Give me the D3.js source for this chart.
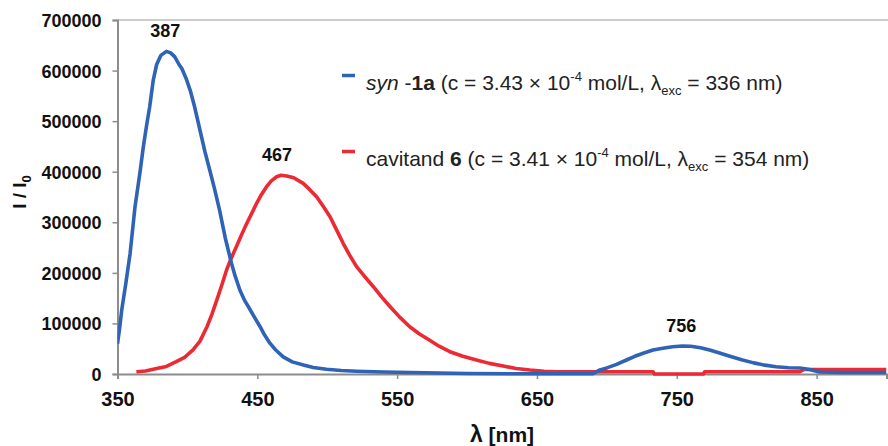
<!DOCTYPE html>
<html lang="en">
<head>
<meta charset="UTF-8">
<title>Emission spectra</title>
<script src="https://d3js.org/d3.v7.min.js"></script>
<style>
  body { margin: 0; background: #fff; }
  svg text { font-family: "Liberation Sans", Arial, sans-serif; fill: #111; }
  .tick-y { font-size: 18px; font-weight: bold; }
  .tick-x { font-family: "Liberation Sans Narrow", "Liberation Sans", Arial, sans-serif; font-size: 20px; font-weight: bold; }
  .peak { font-size: 18px; font-weight: bold; }
  .legend { font-size: 21px; fill: #222; }
</style>
</head>
<body>
<svg id="chart" width="888" height="446"></svg>
<script>
// syn-1a emission (blue)
const synWl = [350, 351.5, 353, 356, 359, 362.5, 366, 368.5, 371, 373, 375.5, 378, 381, 385, 388, 391, 394, 396, 399, 402,
  405, 409, 412.5, 416, 419.5, 423, 427, 431.5, 434, 437.5, 441, 444.7, 448, 452, 455, 459, 463, 468.5, 475, 483,
  490, 499.5, 510, 521, 540, 560, 580, 600, 640, 690, 695, 700, 707, 714, 720, 727, 733, 740, 747, 754,
  760, 767, 773.5, 780, 788, 797, 805, 813, 821, 830, 838, 845, 852, 870, 900];
const synI = [60000, 90000, 126000, 180000, 238000, 330000, 397000, 450000, 495000, 528000, 580000, 612000, 630000, 638000, 635000, 627000, 612000, 604000, 585000, 561000,
  530000, 482000, 440000, 403000, 365000, 324000, 270000, 219000, 195000, 166000, 145000, 128000, 112000, 93500, 78000, 61000, 48000, 34000, 24000, 17800,
  13000, 9300, 7000, 5500, 4000, 3000, 2000, 1000, 500, 500, 8000, 12000, 19000, 27700, 35000, 42000, 47500, 51000, 54000, 55500,
  55000, 52000, 47500, 42000, 35000, 27700, 22000, 17500, 14400, 12500, 11800, 9000, 4000, 3000, 3000];

// cavitand 6 emission (red)
const cavWl = [363.5, 370, 378, 385, 392, 398, 404, 409, 414, 417.5, 421, 424.5, 428, 431.5, 435, 438.5, 442, 445.5, 449.5, 453,
  456.6, 460, 463.8, 467, 471, 476, 482.8, 487, 492.4, 497, 502, 506.5, 511.4, 516, 521, 527, 533, 539, 545, 552,
  559, 566, 573, 580, 587.7, 597, 606.7, 616, 625.8, 635, 645, 655, 664, 690, 733, 734, 769, 770, 838, 841, 900];
const cavI = [4500, 6000, 11000, 15000, 24300, 33000, 47500, 65000, 93500, 118000, 146000, 175000, 205600, 230000, 251700, 274000, 295000, 315000, 337500, 355000,
  370400, 382000, 390000, 393000, 391500, 388000, 377000, 366000, 350600, 332000, 311000, 286000, 258400, 235000, 212200, 192000, 172600, 152000, 133100, 112000,
  93500, 79000, 67200, 55000, 44100, 35000, 27700, 21000, 15800, 11000, 7900, 5500, 4500, 4500, 4500, 0, 0, 4500, 4500, 9000, 9000];

const xTicks = [350, 450, 550, 650, 750, 850];
const yTicks = [0, 100000, 200000, 300000, 400000, 500000, 600000, 700000];
const peakWl = [387, 467, 756];
const peakI = [638000, 393000, 55500];

const blue = "#2e63b6";
const red = "#ec2a33";
const gray = "#8c8c8c";

const svg = d3.select("#chart");
const x = d3.scaleLinear().domain([350, 900]).range([117.5, 886.5]);
const y = d3.scaleLinear().domain([0, 700000]).range([374, 20]);

svg.append("defs").append("clipPath").attr("id", "plot")
  .append("rect").attr("x", x(350)).attr("y", 0).attr("width", x(900) - x(350)).attr("height", 380);

// frame top line
svg.append("line").attr("x1", x(350)).attr("x2", 888).attr("y1", y(700000)).attr("y2", y(700000))
  .attr("stroke", "#bbb").attr("stroke-width", 1.5);

// axes
const yAxis = svg.append("g").attr("transform", `translate(${x(350)},0)`)
  .call(d3.axisLeft(y).tickValues(yTicks).tickSize(5).tickPadding(11).tickFormat(d3.format("d")));
const xAxis = svg.append("g").attr("transform", `translate(0,${y(0)})`)
  .call(d3.axisBottom(x).tickValues(xTicks).tickSize(5).tickPadding(11).tickFormat(d3.format("d")));
[yAxis, xAxis].forEach(g => {
  g.select(".domain").attr("stroke", gray).attr("stroke-width", 2);
  g.selectAll(".tick line").attr("stroke", gray).attr("stroke-width", 1.5);
  g.attr("font-family", null).attr("font-size", null);
});
yAxis.selectAll(".tick text").attr("class", "tick-y").attr("dy", "0.36em");
xAxis.selectAll(".tick text").attr("class", "tick-x").attr("dy", "0.8em");

// series
const line = d3.line().x(d => x(d[0])).y(d => y(d[1]));
const plot = svg.append("g").attr("clip-path", "url(#plot)");
plot.append("path").datum(cavWl.map((w, i) => [w, cavI[i]]))
  .attr("d", line).attr("fill", "none").attr("stroke", red).attr("stroke-width", 3.6).attr("stroke-linejoin", "round");
plot.append("path").datum(synWl.map((w, i) => [w, synI[i]]))
  .attr("d", line).attr("fill", "none").attr("stroke", blue).attr("stroke-width", 3.6).attr("stroke-linejoin", "round");

// peak labels
svg.selectAll(".peak").data(peakWl).enter().append("text")
  .attr("class", "peak").attr("text-anchor", "middle")
  .attr("x", d => x(d) - 4)
  .attr("y", (d, i) => y(peakI[i]) - 14)
  .text(d => d);

// legend
function legendRow(yy, color, build) {
  svg.append("line").attr("x1", 342).attr("x2", 355).attr("y1", yy - 14.5).attr("y2", yy - 14.5)
    .attr("stroke", color).attr("stroke-width", 3.5);
  const t = svg.append("text").attr("class", "legend").attr("x", 366).attr("y", yy);
  build(t);
}
function tail(t, conc, exc) {
  t.append("tspan").text(` (c = ${conc} × 10`);
  t.append("tspan").attr("dy", -9).attr("font-size", "13px").text("-4");
  t.append("tspan").attr("dy", 9).text(" mol/L, λ");
  t.append("tspan").attr("dy", 5).attr("font-size", "13px").text("exc");
  t.append("tspan").attr("dy", -5).text(` = ${exc} nm)`);
}
legendRow(90, blue, t => {
  t.append("tspan").attr("font-style", "italic").text("syn");
  t.append("tspan").text(" -");
  t.append("tspan").attr("font-weight", "bold").text("1a");
  tail(t, "3.43", "336");
});
legendRow(166, red, t => {
  t.append("tspan").text("cavitand ");
  t.append("tspan").attr("font-weight", "bold").text("6");
  tail(t, "3.41", "354");
});

// axis titles
const xt = svg.append("text").attr("x", 502).attr("y", 442).attr("text-anchor", "middle")
  .attr("font-weight", "bold").attr("font-size", "21px")
  .style("font-family", "'Liberation Sans Narrow', 'Liberation Sans', Arial, sans-serif");
xt.append("tspan").attr("font-size", "23px").text("λ");
xt.append("tspan").text(" [nm]");

const yt = svg.append("text").attr("transform", "translate(26,192) rotate(-90)")
  .attr("text-anchor", "middle").attr("font-weight", "bold").attr("font-size", "19px");
yt.append("tspan").text("I / I");
yt.append("tspan").attr("dy", 5).attr("font-size", "13px").text("0");
</script>
</body>
</html>
